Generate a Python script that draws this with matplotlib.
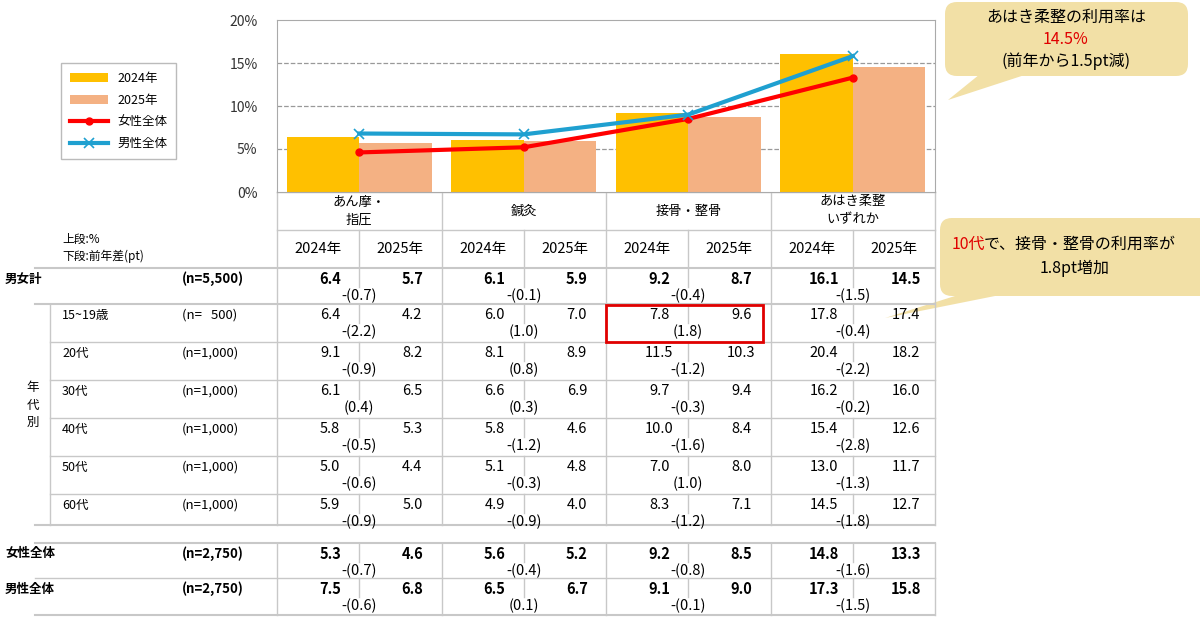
import matplotlib
matplotlib.use("Agg")
import matplotlib.pyplot as plt
from matplotlib.patches import FancyBboxPatch, Polygon, Rectangle
import numpy as np

plt.rcParams["font.family"] = ["Noto Sans CJK JP", "DejaVu Sans"]

categories = ["あん摩・\n指圧", "鍼灸", "接骨・整骨", "あはき柔整\nいずれか"]
years = ["2024年", "2025年"]
bars_2024 = [6.4, 6.1, 9.2, 16.1]
bars_2025 = [5.7, 5.9, 8.7, 14.5]
female_total = [4.6, 5.2, 8.5, 13.3]
male_total = [6.8, 6.7, 9.0, 15.8]

row_labels = ["男女計", "15~19歳", "20代", "30代", "40代", "50代", "60代", "女性全体", "男性全体"]
row_n = ["(n=5,500)", "(n=   500)", "(n=1,000)", "(n=1,000)", "(n=1,000)", "(n=1,000)", "(n=1,000)", "(n=2,750)", "(n=2,750)"]
table_vals = [
    [6.4, 5.7, 6.1, 5.9, 9.2, 8.7, 16.1, 14.5],
    [6.4, 4.2, 6.0, 7.0, 7.8, 9.6, 17.8, 17.4],
    [9.1, 8.2, 8.1, 8.9, 11.5, 10.3, 20.4, 18.2],
    [6.1, 6.5, 6.6, 6.9, 9.7, 9.4, 16.2, 16.0],
    [5.8, 5.3, 5.8, 4.6, 10.0, 8.4, 15.4, 12.6],
    [5.0, 4.4, 5.1, 4.8, 7.0, 8.0, 13.0, 11.7],
    [5.9, 5.0, 4.9, 4.0, 8.3, 7.1, 14.5, 12.7],
    [5.3, 4.6, 5.6, 5.2, 9.2, 8.5, 14.8, 13.3],
    [7.5, 6.8, 6.5, 6.7, 9.1, 9.0, 17.3, 15.8],
]
table_diffs = [
    [-0.7, -0.1, -0.4, -1.5],
    [-2.2, 1.0, 1.8, -0.4],
    [-0.9, 0.8, -1.2, -2.2],
    [0.4, 0.3, -0.3, -0.2],
    [-0.5, -1.2, -1.6, -2.8],
    [-0.6, -0.3, 1.0, -1.3],
    [-0.9, -0.9, -1.2, -1.8],
    [-0.7, -0.4, -0.8, -1.6],
    [-0.6, 0.1, -0.1, -1.5],
]

W, H = 1200, 630
fig = plt.figure(figsize=(12, 6.3), dpi=100)
fig.patch.set_facecolor("white")

ov = fig.add_axes([0, 0, 1, 1])
ov.set_xlim(0, W); ov.set_ylim(H, 0); ov.axis("off")

x0, x1, yt, yb = 277, 935, 20, 192
ax = fig.add_axes([x0 / W, 1 - yb / H, (x1 - x0) / W, (yb - yt) / H])
x = np.arange(len(categories))
bw = 0.44
b1 = ax.bar(x - bw / 2, bars_2024, bw, color="#FFC000", label="2024年")
b2 = ax.bar(x + bw / 2, bars_2025, bw, color="#F4B183", label="2025年")
l1, = ax.plot(x, female_total, color="#FF0000", lw=3, marker="o", ms=5, label="女性全体")
l2, = ax.plot(x, male_total, color="#1FA0D0", lw=3, marker="x", ms=7, mew=1.2, label="男性全体")
ax.set_xlim(-0.5, 3.5)
ax.set_ylim(0, 20)
ax.set_yticks([0, 5, 10, 15, 20])
ax.set_yticklabels([f"{v}%" for v in [0, 5, 10, 15, 20]], fontsize=10, color="#333")
ax.set_xticks([])
ax.tick_params(axis="y", length=0, pad=14)
for v in [5, 10, 15]:
    ax.axhline(v, color="#999", ls="--", lw=0.9, zorder=0)
for s in ax.spines.values():
    s.set_color("#aaa")
fig.legend([b1, b2, l1, l2], ["2024年", "2025年", "女性全体", "男性全体"], loc="upper left",
           bbox_to_anchor=(55 / W, 1 - 57 / H), fontsize=9, frameon=True, fancybox=False,
           edgecolor="#aaa", handlelength=3, borderpad=0.7, labelspacing=0.7)

colb = [277 + i * (935 - 277) / 4 for i in range(5)]
subw = (935 - 277) / 8
lc = "#c8c8c8"
for i, c in enumerate(categories):
    ov.text((colb[i] + colb[i + 1]) / 2, 211, c, ha="center", va="center", fontsize=9.5, linespacing=1.5)
    for j, y in enumerate(years):
        ov.text(colb[i] + subw * (j + 0.5), 249, y, ha="center", va="center", fontsize=10.5)
ov.text(62, 239, "上段:%", fontsize=8.5, va="center")
ov.text(62, 256, "下段:前年差(pt)", fontsize=8.5, va="center")

row_top = [268, 304, 342, 380, 418, 456, 494, 543, 578]
row_h = [36, 38, 38, 38, 38, 38, 31, 35, 37]

def fmt_diff(d):
    return f"-({abs(d):.1f})" if d < 0 else f"({d:.1f})"

for r in range(len(row_labels)):
    top = row_top[r]
    bold = r in (0, 7, 8)
    fw = "bold" if bold else "normal"
    lx = 5 if bold else 62
    ov.text(lx, top + 11, row_labels[r], fontsize=9, fontweight=fw, va="center")
    ov.text(182, top + 11, row_n[r], fontsize=9.5, fontweight=fw, va="center")
    for k, v in enumerate(table_vals[r]):
        ov.text(colb[k // 2] + subw * (k % 2 + 0.5) + 12, top + 11, f"{v:.1f}", ha="center",
                va="center", fontsize=10.5, fontweight=fw)
    for i, d in enumerate(table_diffs[r]):
        ov.text(colb[i] + subw, top + 28, fmt_diff(d), ha="center", va="center", fontsize=10.5)

ov.plot([277, 935], [192, 192], color=lc, lw=1)
ov.plot([277, 935], [230, 230], color=lc, lw=1)
for b in colb:
    ov.plot([b, b], [192, 525], color=lc, lw=1)
    ov.plot([b, b], [543, 615], color=lc, lw=1)
for i in range(4):
    mid = colb[i] + subw
    ov.plot([mid, mid], [230, 287], color=lc, lw=1)
    for r in range(1, 9):
        ov.plot([mid, mid], [row_top[r], row_top[r] + 19], color=lc, lw=1)
ov.plot([35, 935], [268, 268], color=lc, lw=1.5)
ov.plot([35, 935], [304, 304], color=lc, lw=1.5)
for y in [342, 380, 418, 456, 494]:
    ov.plot([50, 935], [y, y], color=lc, lw=1)
ov.plot([35, 935], [525, 525], color=lc, lw=1.5)
ov.plot([35, 935], [543, 543], color=lc, lw=1.5)
ov.plot([35, 935], [578, 578], color=lc, lw=1)
ov.plot([35, 935], [615, 615], color=lc, lw=1.5)
ov.plot([50, 50], [304, 525], color=lc, lw=1)
ov.text(33, 405, "年\n代\n別", ha="center", va="center", fontsize=9, linespacing=1.4)

ov.add_patch(Rectangle((606, 305), 157, 37, fill=False, ec="#E00000", lw=2, zorder=5))

bc = "#F2E0A6"
ov.add_patch(Polygon([[985, 70], [1040, 70], [948, 100]], closed=True, fc=bc, ec="none"))
ov.add_patch(FancyBboxPatch((945, 2), 243, 74, boxstyle="round,pad=0,rounding_size=12", fc=bc, ec="none"))
ov.text(1066, 17, "あはき柔整の利用率は", ha="center", va="center", fontsize=11.5)
ov.text(1066, 39, "14.5%", ha="center", va="center", fontsize=11.5, color="#E00000")
ov.text(1066, 61, "(前年から1.5pt減)", ha="center", va="center", fontsize=11.5)

ov.add_patch(Polygon([[990, 285], [1050, 285], [885, 318]], closed=True, fc=bc, ec="none"))
ov.add_patch(FancyBboxPatch((940, 218), 275, 78, boxstyle="round,pad=0,rounding_size=12", fc=bc, ec="none"))
ov.text(952, 244, "10代", ha="left", va="center", fontsize=11.5, color="#E00000")
ov.text(984, 244, "で、接骨・整骨の利用率が", ha="left", va="center", fontsize=11.5)
ov.text(1075, 268, "1.8pt増加", ha="center", va="center", fontsize=11.5)

fig.savefig("out.png", dpi=100)
